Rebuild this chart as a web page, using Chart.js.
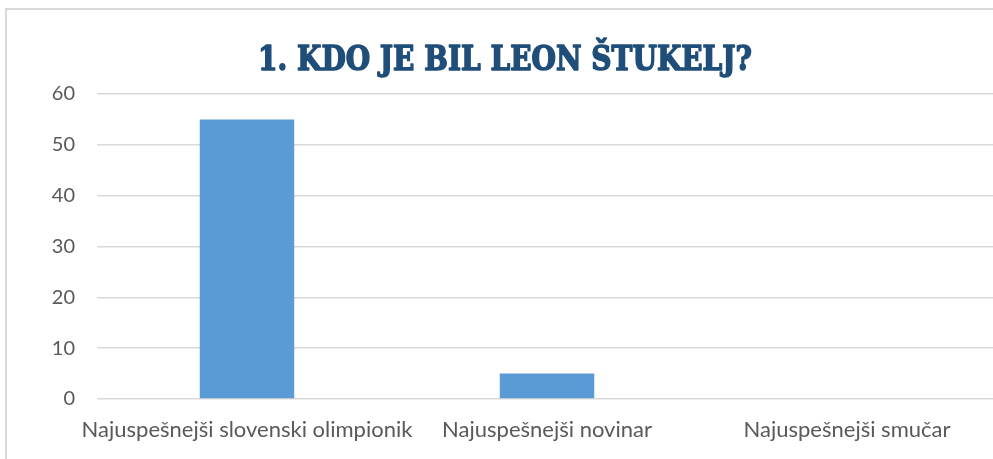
<!DOCTYPE html>
<html>
<head>
<meta charset="utf-8">
<script src="https://cdn.jsdelivr.net/npm/chart.js@4.4.1/dist/chart.umd.min.js"></script>
<style>
    html, body { margin: 0; padding: 0; background: #fff; overflow: hidden; }
    #wrap { position: relative; width: 993px; height: 459px; overflow: hidden; }
    #frame {
        position: absolute; left: 5px; top: 8px; width: 1000px; height: 470px;
        border: 2px solid #d9d9d9; box-sizing: border-box;
    }
    #holder { position: absolute; left: 0; top: 0; width: 1000px; height: 459px; }
</style>
</head>
<body>
<div id="wrap">
    <div id="frame"></div>
    <div id="holder"><canvas id="chart"></canvas></div>
</div>
<script>
// ===== DATA =====
const titleText = '1. KDO JE BIL LEON ŠTUKELJ?';
const categories = ['Najuspešnejši slovenski olimpionik', 'Najuspešnejši novinar', 'Najuspešnejši smučar'];
const answers = [55, 5, 0];
const yTicks = [0, 10, 20, 30, 40, 50, 60];

const LABEL_COLOR = '#595959';
const GRID_COLOR = '#d9d9d9';

// title drawn by hand so it can be squeezed to the width of the original
const titlePlugin = {
    id: 'wideTitle',
    afterDraw(chart) {
        const ctx = chart.ctx;
        ctx.save();
        ctx.font = 'bold 34px "DejaVu Serif"';
        ctx.fillStyle = '#1f4e79';
        ctx.strokeStyle = '#1f4e79';
        ctx.lineWidth = 1.6;
        ctx.lineJoin = 'round';
        ctx.textAlign = 'left';
        ctx.textBaseline = 'alphabetic';
        const w = ctx.measureText(titleText).width;
        const target = 494;
        ctx.translate(258, 70);
        ctx.scale(target / w, 1);
        ctx.fillText(titleText, 0, 0);
        ctx.strokeText(titleText, 0, 0);
        ctx.restore();
    }
};

const ctx = document.getElementById('chart');
new Chart(ctx, {
    type: 'bar',
    data: {
        labels: categories,
        datasets: [{
            label: 'Odgovori',
            data: answers,
            backgroundColor: '#5b9bd5',
            borderWidth: 0,
            barPercentage: 0.63,
            categoryPercentage: 0.5
        }]
    },
    options: {
        responsive: true,
        maintainAspectRatio: false,
        animation: false,
        layout: { padding: { top: 94, right: 3, bottom: 0, left: 0 } },
        plugins: {
            legend: { display: false },
            title: { display: false },
            tooltip: { enabled: false }
        },
        scales: {
            y: {
                min: 0, max: 60,
                afterBuildTicks: (axis) => { axis.ticks = yTicks.map(v => ({ value: v })); },
                afterFit: (axis) => { axis.width = 97; },
                ticks: {
                    color: LABEL_COLOR, padding: 22,
                    font: { family: 'Lato', size: 20 }
                },
                grid: { color: GRID_COLOR, lineWidth: 1.5, drawTicks: false },
                border: { display: false }
            },
            x: {
                afterFit: (axis) => { axis.height = 60; },
                ticks: {
                    color: LABEL_COLOR, padding: 18, maxRotation: 0, autoSkip: false,
                    font: { family: 'Lato', size: 22 }
                },
                grid: { display: false, drawTicks: false },
                border: { display: false }
            }
        }
    },
    plugins: [titlePlugin]
});
</script>
</body>
</html>
